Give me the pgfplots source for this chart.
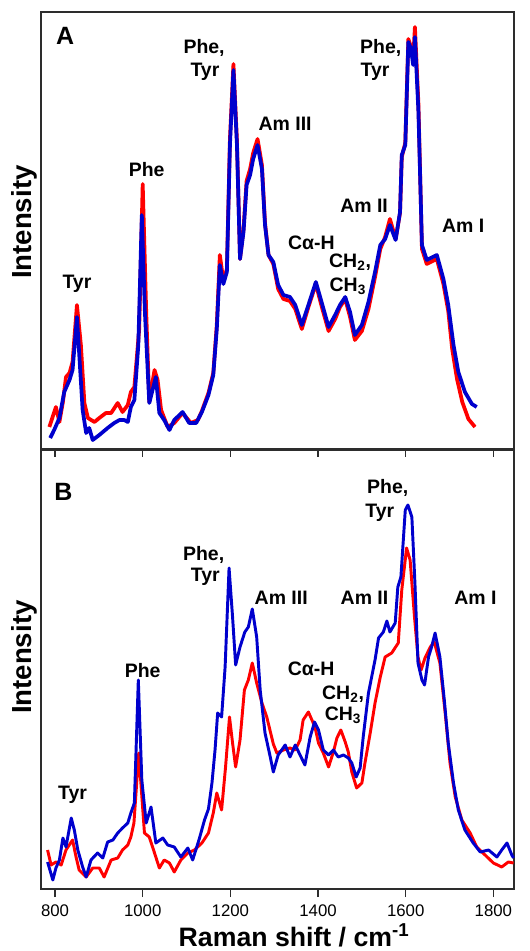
\documentclass[border=0pt]{standalone}
\usepackage{fontspec}
\setmainfont{Liberation Sans}
\usepackage{pgfplots}
\pgfplotsset{compat=1.18}
\definecolor{SpecRed}{RGB}{255,0,0}
\definecolor{SpecBlue}{RGB}{0,0,205}
\definecolor{FrameGray}{RGB}{45,45,45}

\newcommand{\lbl}{\fontsize{14.6}{17}\selectfont\bfseries}
\tikzset{ann/.style={font=\lbl, inner sep=0pt}}
\pgfplotsset{
  panel/.style={
    scale only axis,
    width=354.75pt,
    xmin=768, xmax=1847, ymin=0,
    ytick=\empty,
    xtick={800,1000,...,1800},
    xtick pos=left,
    tick align=outside,
    major tick length=6pt,
    axis line style={draw=FrameGray, line width=1.2pt},
    tick style={draw=FrameGray, line width=0.9pt},
    xticklabel style={font=\fontsize{12.6}{15}\selectfont, yshift=-2.5pt},
    /pgf/number format/1000 sep={},
    /pgf/number format/assume math mode=true,
    clip=false,
  },
  red line/.style={draw=SpecRed, line width=#1, line join=round, no markers},
  blue line/.style={draw=SpecBlue, line width=#1, line join=round, no markers},
}

\begin{document}
\begin{tikzpicture}
\path[use as bounding box] (0,0) rectangle (397.5pt,713.25pt);

% panel A
\begin{axis}[panel, at={(30.75pt,376.5pt)}, anchor=south west,
  height=327.75pt, ymax=437, xticklabels={}]
\addplot[red line=2.8pt] coordinates {
(787,22)(802,42)(810,27)(818,47)(825,72)(833,76)(840,87)(850,144)(859,104)
(867,46)(875,31)(890,27)(901,31)(916,36)(928,36)(943,46)(954,37)(966,44)
(973,57)(981,62)(992,120)(1000,265)(1008,137)(1015,47)(1027,79)(1034,69)
(1042,39)(1057,22)(1072,26)(1091,36)(1110,26)(1126,29)(1135,38)(1150,56)
(1161,76)(1169,124)(1176,194)(1184,168)(1192,180)(1199,310)(1207,385)
(1215,308)(1222,190)(1230,220)(1237,268)(1245,280)(1252,296)(1262,310)
(1272,284)(1279,226)(1287,194)(1298,185)(1309,160)(1321,150)(1336,148)
(1348,140)(1363,120)(1378,142)(1395,165)(1408,143)(1424,118)(1439,130)
(1450,142)(1462,150)(1473,132)(1484,109)(1500,118)(1515,140)(1530,172)
(1542,200)(1553,212)(1564,230)(1577,210)(1587,236)(1591,292)(1599,306)
(1606,410)(1612,402)(1617,390)(1621,422)(1629,345)(1637,200)(1648,185)
(1671,190)(1686,165)(1697,138)(1706,100)(1717,70)(1729,47)(1743,30)(1758,22)
};
\addplot[blue line=2.8pt] coordinates {
(789,11)(798,19)(810,31)(821,57)(833,69)(840,79)(850,132)(863,39)(871,16)
(878,21)(886,9)(901,14)(920,21)(935,26)(947,29)(958,29)(966,27)(973,42)
(981,49)(990,104)(998,234)(1005,137)(1015,46)(1030,72)(1038,36)(1049,29)
(1061,19)(1072,29)(1091,37)(1106,26)(1122,26)(1135,37)(1150,54)(1161,74)
(1169,120)(1176,184)(1184,165)(1192,177)(1199,304)(1207,379)(1215,304)
(1222,190)(1230,217)(1237,264)(1245,274)(1252,290)(1262,304)(1272,280)
(1279,224)(1287,194)(1298,187)(1309,164)(1321,154)(1336,152)(1348,144)
(1363,124)(1378,144)(1395,167)(1408,147)(1424,122)(1439,134)(1450,144)
(1462,152)(1473,137)(1484,114)(1500,124)(1515,147)(1530,177)(1542,204)
(1553,210)(1564,224)(1577,209)(1587,237)(1591,294)(1599,304)(1606,407)
(1612,400)(1617,384)(1621,412)(1629,337)(1637,204)(1648,189)(1671,194)
(1686,170)(1697,144)(1709,104)(1720,77)(1735,57)(1751,45)(1762,42)
};
\node[inner sep=0pt, font=\fontsize{18.75}{22}\selectfont\bfseries] at (axis cs:823,413) {A};
\node[ann] at (axis cs:850,165) {Tyr};
\node[ann] at (axis cs:1009,279) {Phe};
\node[ann] at (axis cs:1140,401.5) {Phe,};
\node[ann] at (axis cs:1142,377) {Tyr};
\node[ann] at (axis cs:1325,325.5) {Am III};
\node[ann] at (axis cs:1385,206.5) {Cα-H};
\node[ann] at (axis cs:1473,187) {CH\textsubscript{2},};
\node[ann] at (axis cs:1468,163) {CH\textsubscript{3}};
\node[ann] at (axis cs:1505,243) {Am II};
\node[ann] at (axis cs:1543,401.5) {Phe,};
\node[ann] at (axis cs:1530,377) {Tyr};
\node[ann] at (axis cs:1731,223.5) {Am I};
\node[rotate=90, font=\fontsize{20.7}{24}\selectfont\bfseries]
  at (rel axis cs:-0.036,0.519) {Intensity};
\end{axis}

% panel B
\begin{axis}[panel, at={(30.75pt,46.5pt)}, anchor=south west,
  height=329.25pt, ymax=439]
\addplot[red line=2.2pt] coordinates {
(783,39)(791,24)(802,27)(814,24)(825,39)(840,49)(848,32)(855,19)(871,12)
(886,21)(901,21)(912,12)(928,29)(943,31)(954,39)(966,44)(973,52)(980,66)
(991,136)(1004,56)(1015,52)(1027,36)(1038,21)(1049,29)(1061,26)(1072,17)
(1087,29)(1103,36)(1118,39)(1135,46)(1150,56)(1161,76)(1169,96)(1180,79)
(1189,122)(1198,172)(1205,146)(1212,122)(1222,149)(1232,199)(1241,209)
(1250,226)(1260,206)(1272,186)(1283,172)(1298,145)(1306,136)(1321,139)
(1336,141)(1348,139)(1359,149)(1366,169)(1378,177)(1386,169)(1393,162)
(1401,146)(1412,136)(1424,122)(1435,137)(1443,151)(1452,159)(1462,147)
(1469,137)(1477,117)(1488,101)(1500,106)(1507,126)(1519,156)(1530,186)
(1542,212)(1553,232)(1568,236)(1583,246)(1591,299)(1602,341)(1610,329)
(1620,272)(1628,232)(1635,219)(1644,231)(1656,242)(1665,247)(1678,226)
(1690,176)(1701,126)(1713,92)(1728,69)(1747,56)(1762,42)(1781,34)(1800,26)
(1819,22)(1834,27)(1846,26)
};
\addplot[blue line=2.2pt] coordinates {
(783,27)(795,9)(802,21)(810,29)(818,51)(825,42)(837,71)(844,59)(852,39)
(863,22)(871,12)(882,29)(897,36)(909,31)(920,47)(932,49)(943,56)(954,61)
(966,66)(973,76)(981,86)(990,209)(998,109)(1008,66)(1019,82)(1030,46)
(1046,51)(1057,44)(1072,42)(1087,32)(1103,41)(1114,29)(1129,50)(1141,69)
(1150,80)(1158,106)(1165,139)(1171,176)(1180,172)(1188,222)(1197,321)
(1205,272)(1212,224)(1222,242)(1233,257)(1241,262)(1250,280)(1260,252)
(1268,199)(1279,156)(1291,132)(1298,117)(1309,134)(1325,144)(1336,132)
(1348,144)(1359,134)(1370,124)(1382,152)(1392,167)(1401,159)(1412,139)
(1424,134)(1435,139)(1446,132)(1458,134)(1469,131)(1477,126)(1487,112)
(1496,121)(1503,152)(1515,196)(1530,229)(1538,251)(1549,257)(1557,268)
(1564,257)(1576,266)(1582,302)(1589,312)(1599,379)(1605,384)(1614,372)
(1621,306)(1628,226)(1637,209)(1643,204)(1652,232)(1659,242)(1667,256)
(1678,232)(1688,189)(1697,146)(1709,106)(1720,79)(1735,59)(1754,46)
(1770,37)(1789,39)(1808,32)(1819,39)(1831,46)(1842,34)(1846,31)
};
\node[inner sep=0pt, font=\fontsize{18.75}{22}\selectfont\bfseries] at (axis cs:819,397) {B};
\node[ann] at (axis cs:840,94.5) {Tyr};
\node[ann] at (axis cs:1000,218.5) {Phe};
\node[ann] at (axis cs:1139,334.5) {Phe,};
\node[ann] at (axis cs:1143,312.5) {Tyr};
\node[ann] at (axis cs:1316,291.5) {Am III};
\node[ann] at (axis cs:1384,220) {Cα-H};
\node[ann] at (axis cs:1457,195) {CH\textsubscript{2},};
\node[ann] at (axis cs:1457,174) {CH\textsubscript{3}};
\node[ann] at (axis cs:1506,291) {Am II};
\node[ann] at (axis cs:1559,401) {Phe,};
\node[ann] at (axis cs:1541,376.5) {Tyr};
\node[ann] at (axis cs:1759,291.5) {Am I};
\node[rotate=90, font=\fontsize{20.7}{24}\selectfont\bfseries]
  at (rel axis cs:-0.036,0.528) {Intensity};
\node[anchor=base, font=\fontsize{20}{24}\selectfont\bfseries]
  at (rel axis cs:0.535,-0.131) {Raman shift / cm\textsuperscript{-1}};
\end{axis}
\end{tikzpicture}
\end{document}
